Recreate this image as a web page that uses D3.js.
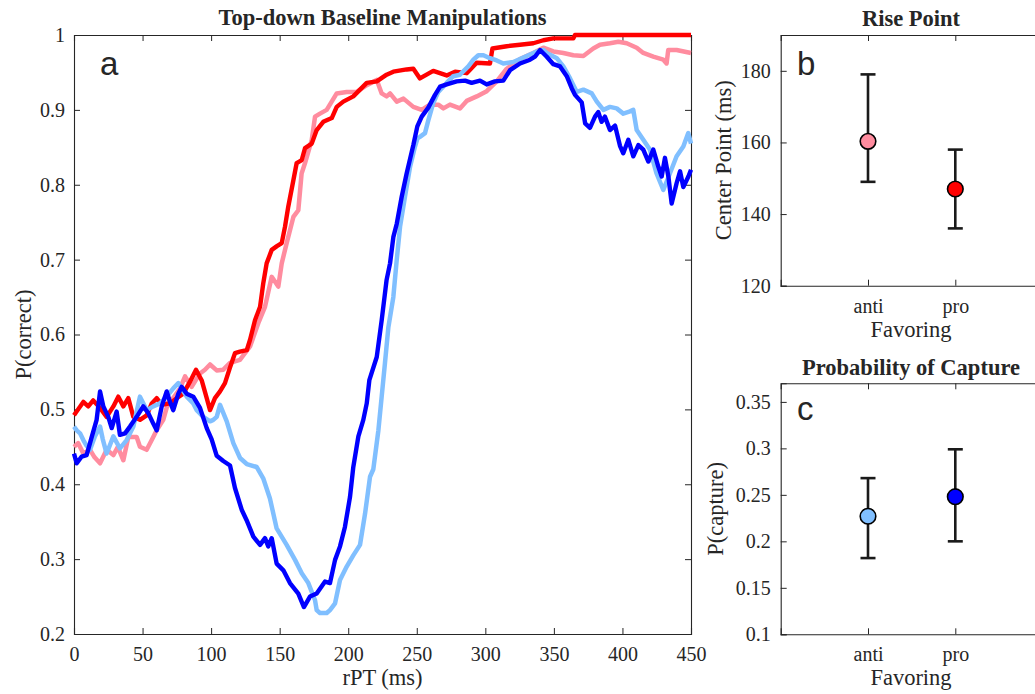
<!DOCTYPE html>
<html>
<head>
<meta charset="utf-8">
<script src="https://cdn.jsdelivr.net/npm/d3@7"></script>
<style>
  html, body { margin: 0; padding: 0; background: #fff; }
  svg { display: block; }
  text { font-family: "Liberation Serif", "Times New Roman", serif; fill: #262626; }
</style>
</head>
<body>
<svg id="chart" width="1035" height="694"></svg>
<script>
// ---------------- DATA ----------------
// Panel a: P(correct) vs rPT (ms), pairs [rPT, P]
const antiCorrect = [[0,0.450],[3,0.455],[6.8,0.441],[11.7,0.446],[15,0.436],[19,0.428],[23.8,0.446],[28.7,0.439],[32,0.450],[36,0.432],[39.6,0.463],[45.7,0.463],[48.1,0.450],[53,0.446],[56.7,0.459],[60.3,0.472],[65.1,0.486],[68.8,0.510],[72.4,0.515],[77.3,0.528],[81,0.544],[85.8,0.530],[91.9,0.548],[95.5,0.553],[99.2,0.560],[104.1,0.552],[108.9,0.553],[113.8,0.562],[121,0.566],[128.4,0.584],[134.4,0.615],[139.3,0.637],[144.2,0.677],[149,0.664],[151.5,0.695],[155.1,0.722],[160,0.757],[163.6,0.766],[166,0.815],[168.5,0.829],[173.4,0.860],[175.8,0.891],[179.4,0.895],[184.3,0.900],[191.6,0.922],[198.9,0.924],[206.2,0.924],[213.5,0.933],[220.8,0.940],[224.4,0.922],[228,0.918],[230.5,0.922],[235.4,0.911],[240.3,0.915],[247.5,0.904],[253.6,0.900],[259.6,0.907],[265.7,0.907],[269.4,0.902],[274.2,0.907],[281.5,0.902],[286.4,0.912],[293.7,0.918],[301,0.925],[308.3,0.938],[315.6,0.955],[325.3,0.968],[335,0.976],[342.3,0.983],[349.6,0.978],[356.9,0.976],[364.2,0.973],[371.5,0.972],[378.7,0.982],[383.6,0.987],[390.9,0.989],[397,0.991],[403.1,0.989],[410.4,0.983],[415.2,0.976],[422.5,0.971],[429.8,0.967],[432.2,0.962],[433.4,0.980],[439.5,0.980],[450,0.976]];

const proCorrect = [[0,0.492],[3,0.500],[6.8,0.510],[10.4,0.504],[14,0.512],[19,0.502],[23.8,0.490],[28.7,0.504],[32.3,0.517],[36,0.504],[39.6,0.515],[43.3,0.490],[48.1,0.486],[53,0.492],[56.7,0.508],[60.3,0.515],[64,0.506],[70,0.508],[74.9,0.515],[79.7,0.521],[84.6,0.537],[89,0.553],[93.1,0.539],[96.8,0.515],[99.2,0.499],[102.8,0.515],[106.5,0.524],[110.1,0.535],[113.8,0.556],[117.4,0.575],[121,0.577],[126,0.579],[128.4,0.593],[132,0.619],[135.7,0.637],[138,0.668],[140.5,0.695],[144.2,0.713],[148,0.718],[151.5,0.722],[153.9,0.744],[156.3,0.771],[160,0.806],[162.4,0.829],[166.1,0.833],[168.5,0.849],[173.4,0.855],[177,0.873],[181.8,0.884],[188,0.889],[191.6,0.904],[196.4,0.911],[203.7,0.918],[208.6,0.927],[213.5,0.936],[220.8,0.938],[228,0.947],[232.9,0.951],[242.6,0.954],[247.5,0.955],[252.3,0.942],[262,0.952],[271.8,0.946],[277.9,0.951],[286.4,0.949],[293.7,0.963],[303.4,0.962],[305.2,0.982],[315.6,0.985],[325.3,0.987],[335,0.989],[342.3,0.993],[349.6,0.9955],[364.2,0.9955],[365.4,1.0],[450,1.0]];

// Panel a: P(correct) for capture conditions (blue)
const antiCapture = [[0,0.477],[2,0.472],[4.4,0.468],[6.8,0.459],[9,0.452],[11.7,0.446],[15.3,0.464],[19,0.477],[21,0.460],[23.8,0.441],[28.7,0.464],[33.5,0.448],[38.4,0.459],[43.3,0.477],[48.1,0.517],[53,0.499],[57.8,0.504],[62.7,0.508],[67.6,0.517],[72.4,0.528],[76.1,0.535],[82.2,0.517],[87,0.508],[89.5,0.499],[94.3,0.490],[99.2,0.484],[101.6,0.486],[104.1,0.490],[106.5,0.506],[111.4,0.484],[116.2,0.455],[121.1,0.435],[126,0.427],[133.3,0.423],[138,0.408],[142.9,0.381],[147.8,0.341],[155.1,0.319],[161.2,0.299],[166.1,0.281],[170.9,0.268],[175.8,0.245],[177,0.232],[179.4,0.228],[184.3,0.228],[186.7,0.232],[190.4,0.241],[194,0.272],[198.9,0.290],[203.7,0.305],[208.6,0.319],[212.3,0.361],[215.9,0.410],[218.3,0.420],[222,0.472],[224.4,0.517],[226.8,0.562],[229.3,0.610],[232.9,0.650],[235.4,0.700],[237.8,0.744],[241.4,0.784],[245.1,0.824],[248.7,0.851],[250.5,0.862],[252.3,0.864],[256,0.869],[258.4,0.886],[262,0.909],[265.7,0.924],[271.8,0.936],[276.6,0.945],[281.5,0.947],[287.6,0.958],[291.3,0.967],[294.9,0.973],[298.6,0.973],[303.4,0.969],[308.3,0.966],[313.1,0.962],[320.4,0.964],[327.7,0.970],[335,0.976],[337.5,0.978],[342.3,0.980],[344.8,0.976],[352.1,0.969],[356.9,0.958],[361.8,0.942],[366.7,0.924],[371.5,0.927],[377.6,0.922],[381.3,0.911],[386.1,0.900],[390.9,0.904],[395.8,0.902],[400.6,0.895],[405.5,0.898],[407.9,0.900],[410.4,0.873],[415.2,0.860],[420,0.847],[424.9,0.815],[429.8,0.793],[434.6,0.815],[439.5,0.838],[444.4,0.851],[448,0.869],[450,0.855]];

const proCapture = [[0,0.441],[2,0.428],[5.6,0.437],[9.2,0.439],[12.9,0.463],[16.5,0.486],[19,0.524],[21.4,0.504],[25,0.490],[27.5,0.475],[31.1,0.497],[33.5,0.466],[37.2,0.468],[40.8,0.477],[45.7,0.490],[50.5,0.504],[54.2,0.495],[57.8,0.481],[60.3,0.472],[64,0.504],[67.6,0.524],[70,0.510],[72.4,0.499],[76.1,0.521],[78.5,0.530],[82.2,0.521],[87,0.517],[91.9,0.502],[96.8,0.475],[100.4,0.460],[104.1,0.438],[108.9,0.431],[113.8,0.425],[117.4,0.395],[122.3,0.366],[125.9,0.352],[130.8,0.330],[135.7,0.319],[139.3,0.328],[141.7,0.317],[144.2,0.328],[147.8,0.294],[152.7,0.285],[157.5,0.268],[163.6,0.254],[167.7,0.236],[172.1,0.250],[177,0.254],[183.1,0.270],[186.7,0.268],[190.4,0.299],[194,0.317],[197.6,0.343],[201.3,0.383],[203.7,0.423],[207.4,0.464],[211,0.486],[213.5,0.508],[215.4,0.539],[220.8,0.570],[224.4,0.619],[228,0.673],[230.5,0.695],[232.9,0.730],[235.4,0.748],[239,0.784],[242.6,0.815],[247.5,0.853],[250.4,0.878],[253.6,0.891],[258.4,0.903],[263.3,0.920],[267,0.931],[271.8,0.934],[279.1,0.938],[285.2,0.939],[290,0.936],[296.1,0.939],[301,0.934],[307,0.938],[313.1,0.939],[318,0.953],[325.3,0.962],[332.6,0.967],[336.2,0.971],[339.9,0.980],[344.8,0.971],[349.6,0.961],[354.5,0.958],[359.4,0.945],[363,0.929],[365.4,0.920],[370.3,0.910],[372.8,0.882],[376.3,0.876],[380,0.891],[382.4,0.897],[384.8,0.884],[387.2,0.891],[390.9,0.873],[394.6,0.879],[398.2,0.852],[400.6,0.842],[404.3,0.860],[407.9,0.838],[411.6,0.853],[415.2,0.847],[418.9,0.831],[422.5,0.847],[426.2,0.824],[428.6,0.811],[431,0.836],[433.5,0.811],[435.9,0.775],[439.5,0.802],[442,0.818],[444.4,0.797],[448.1,0.811],[450,0.820]];

// Panel b / c: categories and summary values
const favoring = ["anti", "pro"];
const risePoint = [160.3, 147.0];
const risePointLow = [149, 136];
const risePointHigh = [179, 158];
const capture = [0.227, 0.248];
const captureLow = [0.182, 0.200];
const captureHigh = [0.268, 0.299];

// Tick values / labels
const aXTicks = [0, 50, 100, 150, 200, 250, 300, 350, 400, 450];
const aYTicks = [0.2, 0.3, 0.4, 0.5, 0.6, 0.7, 0.8, 0.9, 1];
const aYLabels = ["0.2", "0.3", "0.4", "0.5", "0.6", "0.7", "0.8", "0.9", "1"];
const bYTicks = [120, 140, 160, 180];
const bYLabels = ["120", "140", "160", "180"];
const cYTicks = [0.1, 0.15, 0.2, 0.25, 0.3, 0.35];
const cYLabels = ["0.1", "0.15", "0.2", "0.25", "0.3", "0.35"];

// ---------------- DRAWING ----------------
const svg = d3.select("#chart");
const AX = "#262626";
const TICK_FS = 20, LABEL_FS = 22.5, TITLE_FS = 22.5;

function boxAxes(g, x, y, opt) {
  const [x0, x1] = x.range();
  const [y1, y0] = y.range();
  const bottom = g.append("g").attr("transform", `translate(0,${y1})`)
    .call(d3.axisBottom(x).tickValues(opt.xTicks).tickFormat(opt.xFmt).tickSize(-6).tickPadding(13));
  const top = g.append("g").attr("transform", `translate(0,${y0})`)
    .call(d3.axisTop(x).tickValues(opt.xTicks).tickFormat("").tickSize(-6));
  const left = g.append("g").attr("transform", `translate(${x0},0)`)
    .call(d3.axisLeft(y).tickValues(opt.yTicks).tickFormat(opt.yFmt).tickSize(-6).tickPadding(opt.yPad));
  const right = g.append("g").attr("transform", `translate(${x1},0)`)
    .call(d3.axisRight(y).tickValues(opt.yTicks).tickFormat("").tickSize(-6));
  [bottom, top, left, right].forEach(a => {
    a.select(".domain").attr("stroke", AX).attr("stroke-width", 1.1);
    a.selectAll(".tick line").attr("stroke", AX).attr("stroke-width", 1);
    a.selectAll("text").attr("font-family", "Liberation Serif, Times New Roman, serif")
      .attr("font-size", TICK_FS).attr("fill", AX);
  });
}

// ---- Panel a ----
const ga = svg.append("g");
const xa = d3.scaleLinear().domain([0, 450]).range([74, 691]);
const ya = d3.scaleLinear().domain([0.2, 1]).range([634, 35]);
boxAxes(ga, xa, ya, {
  xTicks: aXTicks, xFmt: d => String(d),
  yTicks: aYTicks, yFmt: (d, i) => aYLabels[i], yPad: 9
});

const line = d3.line().x(d => xa(d[0])).y(d => ya(d[1]));
const series = [
  { data: antiCorrect, color: "#ff8c9f", w: 4.5 },
  { data: proCorrect, color: "#ff0000", w: 4.4 },
  { data: antiCapture, color: "#80bfff", w: 4.5 },
  { data: proCapture, color: "#0000ff", w: 4.4 }
];
series.forEach(s => {
  ga.append("path").datum(s.data).attr("d", line)
    .attr("fill", "none").attr("stroke", s.color).attr("stroke-width", s.w)
    .attr("stroke-linejoin", "round").attr("stroke-linecap", "butt");
});

ga.append("text").attr("x", 382.5).attr("y", 25).attr("text-anchor", "middle")
  .attr("font-size", TITLE_FS).attr("font-weight", "bold").attr("fill", "#000")
  .text("Top-down Baseline Manipulations");
ga.append("text").attr("x", 382.5).attr("y", 685).attr("text-anchor", "middle")
  .attr("font-size", LABEL_FS).text("rPT (ms)");
ga.append("text").attr("transform", "translate(31,334.5) rotate(-90)").attr("text-anchor", "middle")
  .attr("font-size", LABEL_FS).text("P(correct)");
ga.append("text").attr("x", 100).attr("y", 75)
  .style("font-family", "Liberation Sans, Arial, sans-serif").attr("font-size", 33).attr("fill", "#000")
  .text("a");

// ---- Panels b & c ----
function dotPanel(top, bottom, domain, ticks, labels, vals, lo, hi, colors, title, ylabel, ylabelX, letter, titleY) {
  const g = svg.append("g");
  const x = d3.scaleLinear().domain([0, 3]).range([780.7, 1042.6]);
  const y = d3.scaleLinear().domain(domain).range([bottom, top]);
  boxAxes(g, x, y, {
    xTicks: [1, 2], xFmt: (d, i) => favoring[i],
    yTicks: ticks, yFmt: (d, i) => labels[i], yPad: 10
  });
  favoring.forEach((c, i) => {
    const cx = x(i + 1);
    g.append("line").attr("x1", cx).attr("x2", cx).attr("y1", y(lo[i])).attr("y2", y(hi[i]))
      .attr("stroke", "#1a1a1a").attr("stroke-width", 2.6);
    [lo[i], hi[i]].forEach(v => {
      g.append("line").attr("x1", cx - 7.5).attr("x2", cx + 7.5).attr("y1", y(v)).attr("y2", y(v))
        .attr("stroke", "#1a1a1a").attr("stroke-width", 2.6);
    });
    g.append("circle").attr("cx", cx).attr("cy", y(vals[i])).attr("r", 7.8)
      .attr("fill", colors[i]).attr("stroke", "#000").attr("stroke-width", 1.6);
  });
  g.append("text").attr("x", 911).attr("y", titleY).attr("text-anchor", "middle")
    .attr("font-size", TITLE_FS).attr("font-weight", "bold").attr("fill", "#000").text(title);
  g.append("text").attr("x", 911).attr("y", bottom + 51).attr("text-anchor", "middle")
    .attr("font-size", LABEL_FS).text("Favoring");
  g.append("text").attr("transform", `translate(${ylabelX},${(top + bottom) / 2}) rotate(-90)`)
    .attr("text-anchor", "middle").attr("font-size", LABEL_FS).text(ylabel);
  g.append("text").attr("x", 797).attr("y", letter === "b" ? 75 : 420)
    .style("font-family", "Liberation Sans, Arial, sans-serif").attr("font-size", 33).attr("fill", "#000")
    .text(letter);
}

dotPanel(35, 285.7, [120, 190], bYTicks, bYLabels, risePoint, risePointLow, risePointHigh,
  ["#ff8c9f", "#ff0000"], "Rise Point", "Center Point (ms)", 731, "b", 26);
dotPanel(383.3, 634.3, [0.1, 0.37], cYTicks, cYLabels, capture, captureLow, captureHigh,
  ["#80bfff", "#0000ff"], "Probability of Capture", "P(capture)", 723, "c", 375);
</script>
</body>
</html>
